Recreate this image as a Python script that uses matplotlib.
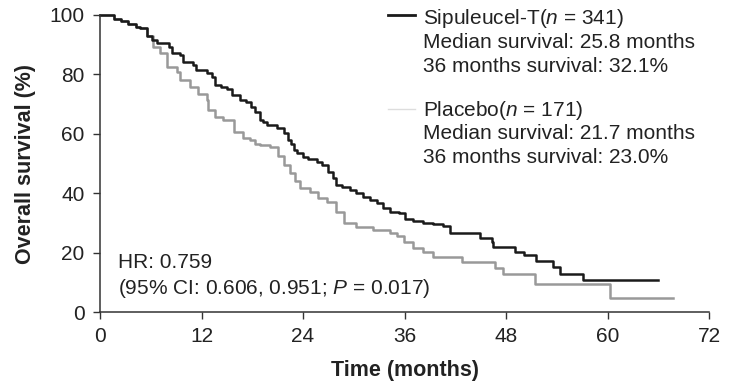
import matplotlib
matplotlib.use('Agg')
import matplotlib.pyplot as plt
from matplotlib.lines import Line2D

plt.rcParams['font.family'] = ['Liberation Sans', 'DejaVu Sans']
plt.rcParams['mathtext.fontset'] = 'custom'
plt.rcParams['mathtext.rm'] = 'Liberation Sans'
plt.rcParams['mathtext.it'] = 'Liberation Sans:italic'

# Kaplan-Meier step data (months, % alive)
sip_t = [0, 1.7, 2.5, 3.3, 4.2, 4.7, 5.5, 6.2, 6.7, 8.1, 8.5, 9.5, 9.85, 11.0, 11.4,
         12.6, 13.2, 13.6, 14.3, 15.0, 15.6, 16.6, 17.3, 17.8, 18.3, 18.9, 19.3, 19.7,
         20.9, 21.7, 22.2, 22.6, 22.9, 23.3, 24.0, 24.6, 25.6, 26.2, 27.0, 27.5, 27.9,
         28.6, 29.6, 30.3, 31.1, 31.9, 32.7, 33.5, 34.3, 35.3, 36.1, 37.0, 38.2, 39.4,
         40.6, 41.4, 44.5, 44.9, 46.3, 46.5, 49.1, 50.1, 51.6, 53.6, 54.4, 57.1, 66.0]
sip_s = [100, 98.5, 98, 97, 96, 95.5, 93, 91.5, 90.5, 89.3, 87.3, 86.5, 84.3, 83.2, 81.5,
         80.4, 79.2, 76.4, 75.8, 75, 73, 71.4, 70.8, 69.1, 67.4, 64.6, 64, 63,
         61.8, 60.2, 57.9, 56.5, 54.5, 53.5, 52.3, 51.5, 50.6, 49.5, 47.2, 45, 42.8,
         42, 41.1, 40, 38.8, 37.6, 36.6, 35, 33.8, 33.2, 31.2, 30.5, 29.9, 29.5,
         29.1, 26.7, 26.5, 24.8, 23.7, 21.8, 20.3, 19.2, 17.3, 15.1, 12.8, 10.8, 10.8]

pla_t = [0, 1.7, 2.5, 3.3, 4.2, 4.7, 5.5, 6.3, 7.1, 7.9, 9.1, 9.5, 10.6, 11.6,
         12.6, 12.8, 13.6, 14.6, 15.8, 16.9, 17.7, 18.3, 18.9, 20.1, 21.0, 21.7, 22.5, 23.0,
         23.6, 24.8, 25.8, 26.8, 27.9, 28.8, 30.3, 32.3, 34.3, 35.1, 35.9, 37.0, 38.2, 39.4,
         42.8, 46.7, 47.7, 51.4, 60.3, 67.7]
pla_s = [100, 98.5, 98, 97, 96, 95.5, 93, 89.3, 87.1, 82.6, 80.9, 78.1, 75.9, 73.5,
         71.4, 68, 65.8, 64.6, 60.7, 58.5, 57.9, 56.5, 56.2, 55.7, 52.5, 49.5, 46.7, 44,
         41.6, 40.5, 38.5, 37.1, 33.8, 29.9, 28.7, 27.6, 26.5, 25.6, 23.7, 21.4, 20.3, 18.6,
         16.9, 14.7, 12.8, 9.4, 4.6, 4.6]

x_ticks = [0, 12, 24, 36, 48, 60, 72]
y_ticks = [0, 20, 40, 60, 80, 100]

sip_lines = ['Sipuleucel-T($n$ = 341)', 'Median survival: 25.8 months', '36 months survival: 32.1%']
pla_lines = ['Placebo($n$ = 171)', 'Median survival: 21.7 months', '36 months survival: 23.0%']
hr_lines = ['HR: 0.759', '(95% CI: 0.606, 0.951; $P$ = 0.017)']

W, H = 735, 384
fig = plt.figure(figsize=(W / 100, H / 100), dpi=100)
ax = fig.add_axes([100 / W, 1 - 312 / H, 609 / W, 297 / H])

ax.plot(pla_t, pla_s, drawstyle='steps-post', color='#999999', lw=1.8, clip_on=False)
ax.plot(sip_t, sip_s, drawstyle='steps-post', color='#1a1a1a', lw=1.8, clip_on=False)

ax.set_xlim(0, 72)
ax.set_ylim(0, 100)
ax.set_xticks(x_ticks)
ax.set_yticks(y_ticks)
for s in ['top', 'right']:
    ax.spines[s].set_visible(False)
for s in ['left', 'bottom']:
    ax.spines[s].set_color('#333333')
    ax.spines[s].set_linewidth(1.1)
ax.tick_params(direction='out', length=5, width=1, color='#333333',
               labelsize=15, labelcolor='#222222', pad=6)

ax.set_xlabel('Time (months)', fontsize=15.5, fontweight='bold', color='#222222', labelpad=10)
ax.set_ylabel('Overall survival (%)', fontsize=15.5, fontweight='bold', color='#222222', labelpad=10)


def fx(px):
    return px / W


def fy(py):
    return 1 - py / H


# legend-like annotations
fig.add_artist(Line2D([fx(388), fx(415)], [fy(15), fy(15)], color='#1a1a1a', lw=2))
fig.add_artist(Line2D([fx(388), fx(415)], [fy(109), fy(109)], color='#dddddd', lw=1))
for i, t in enumerate(sip_lines):
    fig.text(fx(423), fy(19 + 24 * i), t, fontsize=15, color='#222222', va='center')
for i, t in enumerate(pla_lines):
    fig.text(fx(423), fy(110 + 24 * i), t, fontsize=15, color='#222222', va='center')
for i, t in enumerate(hr_lines):
    fig.text(fx(118), fy(262 + 27 * i), t, fontsize=15, color='#222222', va='center')

fig.savefig('out.png', dpi=100)
